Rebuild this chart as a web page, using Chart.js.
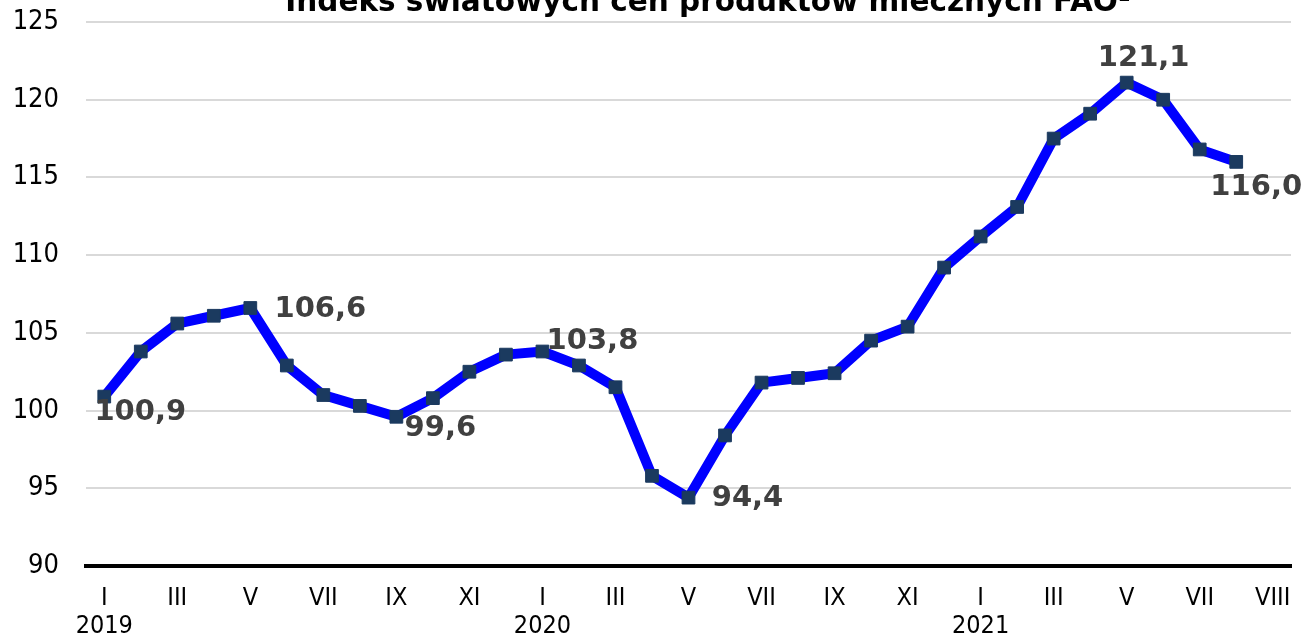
<!DOCTYPE html>
<html lang="pl">
<head>
<meta charset="utf-8">
<script src="https://cdn.jsdelivr.net/npm/chart.js@4.4.0/dist/chart.umd.min.js"></script>
<style>
  body { margin: 0; background: #fff; }
  #wrap { width: 1305px; height: 637px; }
</style>
</head>
<body>
<div id="wrap"><canvas id="wykres" width="1305" height="637"></canvas></div>
<script>
const tytul = 'Indeks światowych cen produktów mlecznych FAO¹';

// miesiące (etykiety co drugi miesiąc, jak na oryginale)
const miesiace = ['I', '', 'III', '', 'V', '', 'VII', '', 'IX', '', 'XI', '',
                  'I', '', 'III', '', 'V', '', 'VII', '', 'IX', '', 'XI', '',
                  'I', '', 'III', '', 'V', '', 'VII', '', 'VIII'];
const lata = { 0: '2019', 12: '2020', 24: '2021' };

// indeks FAO, I 2019 - VIII 2021
const indeks = [100.9, 103.8, 105.6, 106.1, 106.6, 102.9, 101.0, 100.3, 99.6, 100.8, 102.5, 103.6,
                103.8, 102.9, 101.5, 95.8, 94.4, 98.4, 101.8, 102.1, 102.4, 104.5, 105.4, 109.2,
                111.2, 113.1, 117.5, 119.1, 121.1, 120.0, 116.8, 116.0];

// punkty z etykietą wartości
const podpisane = [0, 4, 8, 12, 16, 28, 31];

const osY = { min: 90, max: 125, krok: 5 };

// przesunięcia etykiet względem punktu (środek tekstu)
const przesuniecia = {
  0: [36, 16], 4: [70, 1], 8: [44, 12], 12: [50, -10],
  16: [59, 1], 28: [17, -24], 31: [20, 26]
};

const etykiety = miesiace.map(function (m, i) {
  return lata[i] ? [m, lata[i]] : m;
});

const fmt = function (v) { return v.toFixed(1).replace('.', ','); };

const podpisy = {
  id: 'podpisy',
  afterDatasetsDraw: function (chart) {
    const ctx = chart.ctx;
    const meta = chart.getDatasetMeta(0);
    ctx.save();
    ctx.font = 'bold 29px "DejaVu Sans", Verdana, sans-serif';
    ctx.fillStyle = '#404040';
    ctx.textAlign = 'center';
    ctx.textBaseline = 'middle';
    podpisane.forEach(function (i) {
      const p = meta.data[i];
      const o = przesuniecia[i] || [0, -20];
      ctx.fillText(fmt(indeks[i]), p.x + o[0], p.y + o[1]);
    });
    ctx.restore();
  }
};

const naglowek = {
  id: 'naglowek',
  afterDraw: function (chart) {
    const ctx = chart.ctx;
    ctx.save();
    ctx.font = 'bold 29.5px "DejaVu Sans", Verdana, sans-serif';
    ctx.fillStyle = '#000';
    ctx.textAlign = 'center';
    ctx.textBaseline = 'alphabetic';
    ctx.fillText(tytul, 708, 11);
    ctx.restore();
  }
};

new Chart(document.getElementById('wykres'), {
  type: 'line',
  data: {
    labels: etykiety,
    datasets: [{
      label: 'Indeks FAO',
      data: indeks,
      borderColor: '#0000ff',
      borderWidth: 10,
      borderJoinStyle: 'round',
      tension: 0,
      pointStyle: 'rect',
      pointRadius: 9,
      pointBorderWidth: 1,
      pointBackgroundColor: '#1b3a5f',
      pointBorderColor: '#1b3a5f',
      clip: false
    }]
  },
  options: {
    responsive: false,
    animation: false,
    layout: { padding: { top: 22, right: 14, left: 0, bottom: 0 } },
    plugins: {
      legend: { display: false },
      tooltip: { enabled: false },
      title: { display: false }
    },
    scales: {
      x: {
        offset: true,
        grid: { display: false },
        border: { display: true, color: '#000', width: 4 },
        ticks: {
          autoSkip: false,
          maxRotation: 0,
          minRotation: 0,
          padding: 10,
          color: '#000',
          font: { family: '"DejaVu Sans Condensed", "DejaVu Sans", Tahoma, sans-serif', size: 25, lineHeight: 1.12 }
        },
        afterFit: function (s) { s.height = 71; }
      },
      y: {
        min: osY.min,
        max: osY.max,
        grid: { color: '#d9d9d9', lineWidth: 2, drawTicks: false },
        border: { display: false },
        ticks: {
          stepSize: osY.krok,
          padding: 27,
          color: '#000',
          font: { family: '"DejaVu Sans Condensed", "DejaVu Sans", Tahoma, sans-serif', size: 27 }
        },
        afterFit: function (s) {
          s.width = 86;
          s.paddingTop = 0;
          s.paddingBottom = 0;
        }
      }
    }
  },
  plugins: [podpisy, naglowek]
});
</script>
</body>
</html>
